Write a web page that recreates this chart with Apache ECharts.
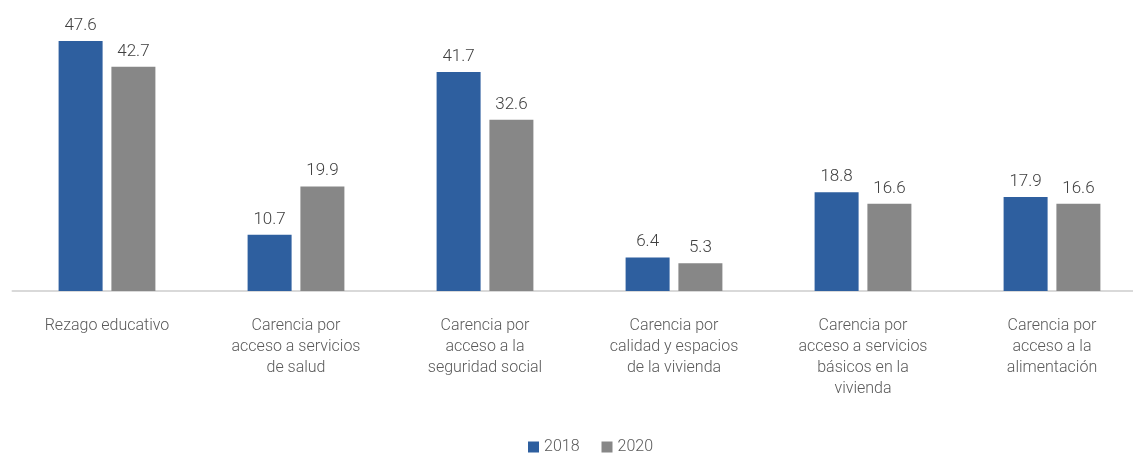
<!DOCTYPE html>
<html><head><meta charset="utf-8">
<script src="https://cdn.jsdelivr.net/npm/echarts@6/dist/echarts.min.js"></script>
<style>html,body{margin:0;padding:0;background:#fff}#c{width:1133px;height:458px}</style>
</head><body><div id="c"></div>
<script>
const categories = [
  "Rezago educativo",
  "Carencia por\nacceso a servicios\nde salud",
  "Carencia por\nacceso a la\nseguridad social",
  "Carencia por\ncalidad y espacios\nde la vivienda",
  "Carencia por\nacceso a servicios\nbásicos en la\nvivienda",
  "Carencia por\nacceso a la\nalimentación"
];
const seriesNames = ["2018", "2020"];
const values2018 = [47.6, 10.7, 41.7, 6.4, 18.8, 17.9];
const values2020 = [42.7, 19.9, 32.6, 5.3, 16.6, 16.6];

const FONT = "Roboto";
const chart = echarts.init(document.getElementById('c'), null, {renderer: 'canvas'});
chart.setOption({
  animation: false,
  textStyle: {fontFamily: FONT},
  grid: {left: 12.5, right: -13.5, top: 28.5, bottom: 167, containLabel: false, outerBoundsMode: 'none'},
  legend: {
    data: seriesNames, bottom: -2, left: 523, itemWidth: 11, itemHeight: 11, itemGap: 22,
    icon: 'rect', textStyle: {fontSize: 16, color: '#595959', fontFamily: FONT, fontWeight: 300}
  },
  xAxis: {
    type: 'category', data: categories,
    axisLine: {lineStyle: {color: '#d9d9d9', width: 2}},
    axisTick: {show: false},
    axisLabel: {interval: 0, fontSize: 16, color: '#595959', lineHeight: 21, margin: 24, fontFamily: FONT, fontWeight: 300}
  },
  yAxis: {type: 'value', min: 0, max: 50, show: false, splitLine: {show: false}},
  series: [
    {name: seriesNames[0], type: 'bar', data: values2018, barWidth: 44, barGap: '20%',
     itemStyle: {color: '#2e5f9f'},
     label: {show: true, position: 'top', distance: 7, fontSize: 17, color: '#404040', fontFamily: FONT, fontWeight: 300}},
    {name: seriesNames[1], type: 'bar', data: values2020, barWidth: 44, barGap: '20%',
     itemStyle: {color: '#878787'},
     label: {show: true, position: 'top', distance: 7, fontSize: 17, color: '#404040', fontFamily: FONT, fontWeight: 300}}
  ]
});
</script></body></html>
